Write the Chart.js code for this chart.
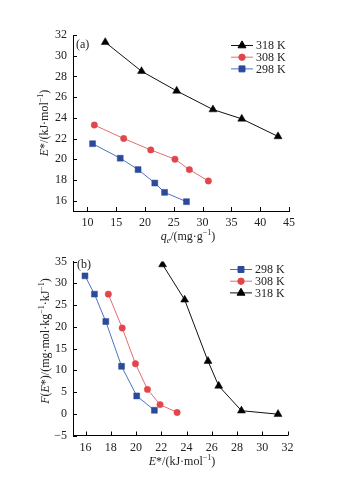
<!DOCTYPE html>
<html>
<head>
<meta charset="utf-8">
<script src="https://cdn.jsdelivr.net/npm/chart.js@4/dist/chart.umd.min.js"></script>
<style>
  html, body { margin: 0; padding: 0; background: #fff; }
  body { width: 347px; height: 478px; position: relative; overflow: hidden; }
  canvas { position: absolute; left: 0; }
  #chartA { top: 0; }
  #chartB { top: 240px; }
</style>
</head>
<body>
<canvas id="chartA" width="347" height="246" style="width:347px;height:246px"></canvas>
<canvas id="chartB" width="347" height="238" style="width:347px;height:238px"></canvas>
<script>
// (a) E* vs qe
const qe318 = [13.1, 19.4, 25.5, 31.8, 36.8, 43.1];
const eA318 = [31.3, 28.5, 26.6, 24.8, 23.9, 22.2];
const qe308 = [11.2, 16.3, 21.0, 25.2, 27.7, 31.0];
const eA308 = [23.3, 22.0, 20.9, 20.0, 19.0, 17.9];
const qe298 = [10.9, 15.7, 18.8, 21.7, 23.4, 27.2];
const eA298 = [21.5, 20.1, 19.0, 17.7, 16.8, 15.9];

// (b) F(E*) vs E*
const eB298 = [15.95, 16.7, 17.6, 18.85, 20.05, 21.45];
const f298 = [31.7, 27.5, 21.2, 10.9, 4.1, 0.8];
const eB308 = [17.8, 18.9, 19.95, 20.9, 21.9, 23.25];
const f308 = [27.5, 19.7, 11.5, 5.6, 2.1, 0.3];
const eB318 = [22.1, 23.85, 25.7, 26.55, 28.35, 31.25];
const f318 = [34.3, 26.2, 12.1, 6.4, 0.7, -0.1];

const xTicksA = [10, 15, 20, 25, 30, 35, 40, 45];
const yTicksA = [16, 18, 20, 22, 24, 26, 28, 30, 32];
const xTicksB = [16, 18, 20, 22, 24, 26, 28, 30, 32];
const yTicksB = [-5, 0, 5, 10, 15, 20, 25, 30, 35];

const FONT = "'Liberation Serif', 'Times New Roman', serif";
const series = {
  k318: { label: "318 K", line: "#111", point: "#000", style: "triangle", r: 4.6 },
  k308: { label: "308 K", line: "#e46d6d", point: "#e0464c", style: "circle", r: 3.2 },
  k298: { label: "298 K", line: "#4d72c4", point: "#2b4a9c", style: "rect", r: 4.2 },
};

function pts(xs, ys) {
  return xs.map((x, i) => ({ x, y: ys[i] }));
}

function ds(key, xs, ys) {
  const s = series[key];
  return {
    label: s.label,
    data: pts(xs, ys),
    showLine: true,
    borderColor: s.line,
    borderWidth: 1,
    backgroundColor: s.point,
    pointBackgroundColor: s.point,
    pointBorderColor: s.point,
    pointStyle: s.style,
    pointRadius: s.r,
    pointBorderWidth: 0.5,
  };
}

// draw text with italic / sup / sub parts
function drawRich(ctx, parts, x, y, rotate) {
  const fontOf = (k) => {
    const small = k === "sup" || k === "sub" || k === "isub";
    const italic = k === "i" || k === "isub" ? "italic " : "";
    return `${italic}${small ? 8 : 12}px ${FONT}`;
  };
  let total = 0;
  parts.forEach(([t, k]) => { ctx.font = fontOf(k); total += ctx.measureText(t).width; });
  ctx.save();
  ctx.translate(x, y);
  if (rotate) ctx.rotate(-Math.PI / 2);
  ctx.fillStyle = "#222";
  ctx.textBaseline = "alphabetic";
  ctx.textAlign = "left";
  let cx = -total / 2;
  parts.forEach(([t, k]) => {
    ctx.font = fontOf(k);
    const dy = k === "sup" ? -5 : (k === "sub" || k === "isub") ? 3 : 0;
    ctx.fillText(t, cx, dy);
    cx += ctx.measureText(t).width;
  });
  ctx.restore();
}

function framePlugin(cfg) {
  return {
    id: "frame",
    afterDraw(chart) {
      const ctx = chart.ctx;
      const { left, bottom } = chart.chartArea;
      const xs = chart.scales.x, ys = chart.scales.y;
      ctx.save();
      ctx.strokeStyle = "#000";
      ctx.lineWidth = 1;
      ctx.beginPath();
      xs.ticks.forEach((t) => {
        const px = Math.round(xs.getPixelForValue(t.value)) + 0.5;
        ctx.moveTo(px, bottom);
        ctx.lineTo(px, bottom - 4);
      });
      ys.ticks.forEach((t) => {
        const py = Math.round(ys.getPixelForValue(t.value)) + 0.5;
        ctx.moveTo(left, py);
        ctx.lineTo(left + 4, py);
      });
      ctx.stroke();

      // panel tag
      ctx.font = `12px ${FONT}`;
      ctx.fillStyle = "#222";
      ctx.fillText(cfg.tag, cfg.tagX, cfg.tagY);

      // legend
      cfg.legend.forEach((key, i) => {
        const s = series[key];
        const y = cfg.legY + i * 11.7;
        ctx.strokeStyle = s.line;
        ctx.lineWidth = 1;
        ctx.beginPath();
        ctx.moveTo(cfg.legX, y);
        ctx.lineTo(cfg.legX + 22, y);
        ctx.stroke();
        ctx.fillStyle = s.point;
        ctx.strokeStyle = s.point;
        Chart.helpers.drawPoint(ctx, { pointStyle: s.style, radius: s.r, rotation: 0, borderWidth: 0.5 }, cfg.legX + 11, y);
        ctx.fillStyle = "#222";
        ctx.font = `12px ${FONT}`;
        ctx.textBaseline = "middle";
        ctx.fillText(s.label, cfg.legX + 25, y + 0.5);
        ctx.textBaseline = "alphabetic";
      });
      ctx.restore();

      drawRich(ctx, cfg.xTitle, cfg.xTitlePos[0], cfg.xTitlePos[1], false);
      drawRich(ctx, cfg.yTitle, cfg.yTitlePos[0], cfg.yTitlePos[1], true);
    },
  };
}

function axis(min, max, ticks, size, isY, pad) {
  const fmtTick = (v) => (v < 0 ? "\u2212" + Math.abs(v) : String(v));
  return {
    type: "linear",
    min,
    max,
    grid: { display: false, drawTicks: false },
    border: { display: true, color: "#000", width: 1 },
    ticks: {
      color: "#222",
      padding: pad,
      font: { family: FONT, size: 12 },
      callback: (v) => fmtTick(v),
      maxRotation: 0,
      autoSkip: false,
    },
    afterBuildTicks: (s) => { s.ticks = ticks.map((v) => ({ value: v })); },
    afterFit: (s) => { if (isY) s.width = size; else s.height = size; },
  };
}

function makeChart(id, datasets, scales, padding, cfg) {
  return new Chart(document.getElementById(id), {
    type: "scatter",
    data: { datasets },
    options: {
      responsive: false,
      animation: false,
      devicePixelRatio: 1,
      layout: { padding },
      plugins: { legend: { display: false }, tooltip: { enabled: false } },
      scales,
    },
    plugins: [framePlugin(cfg)],
  });
}

makeChart(
  "chartA",
  [ds("k318", qe318, eA318), ds("k308", qe308, eA308), ds("k298", qe298, eA298)],
  { x: axis(7.5, 45, xTicksA, 35, false, 5), y: axis(15, 32, yTicksA, 73, true, 6) },
  { top: 35, right: 58, bottom: 0, left: 0 },
  {
    tag: "(a)", tagX: 76, tagY: 48,
    legend: ["k318", "k308", "k298"], legX: 231, legY: 45.5,
    xTitle: [["q", "i"], ["e", "isub"], ["/(mg\u00b7g", ""], ["\u22121", "sup"], [")", ""]],
    xTitlePos: [188, 240],
    yTitle: [["E", "i"], ["*/(kJ\u00b7mol", ""], ["\u22121", "sup"], [")", ""]],
    yTitlePos: [48, 123],
  }
);

makeChart(
  "chartB",
  [ds("k298", eB298, f298), ds("k308", eB308, f308), ds("k318", eB318, f318)],
  { x: axis(15, 32, xTicksB, 42.5, false, 5), y: axis(-5, 35, yTicksB, 73, true, 6) },
  { top: 21.5, right: 59.5, bottom: 0, left: 0 },
  {
    tag: "(b)", tagX: 77, tagY: 28,
    legend: ["k298", "k308", "k318"], legX: 230, legY: 29.5,
    xTitle: [["E", "i"], ["*/(kJ\u00b7mol", ""], ["\u22121", "sup"], [")", ""]],
    xTitlePos: [182, 225],
    yTitle: [["F", "i"], ["(", ""], ["E", "i"], ["*)/(mg\u00b7mol\u00b7kg", ""], ["\u22121", "sup"], ["\u00b7kJ", ""], ["\u22121", "sup"], [")", ""]],
    yTitlePos: [49, 101],
  }
);
</script>
</body>
</html>
